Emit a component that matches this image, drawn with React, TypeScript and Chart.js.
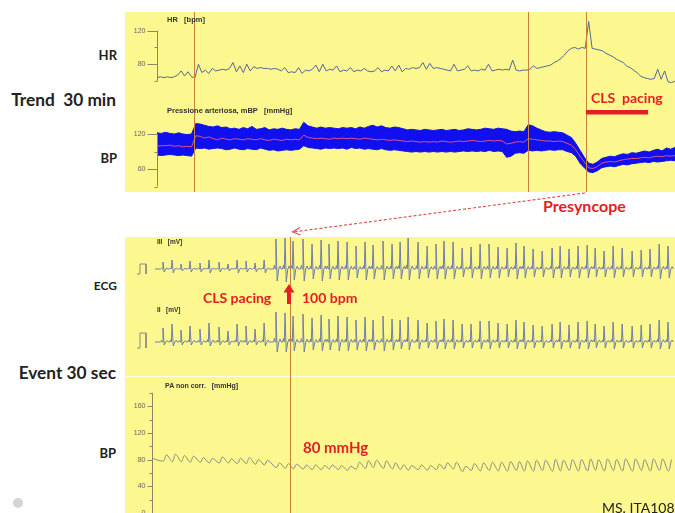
import React, { useEffect, useRef } from "react";
import { Chart, registerables } from "chart.js";

Chart.register(...registerables);

// ================= TREND 30 min (top panel) =================
const hrStepMin = 0.2;
const hrValues = [
  64, 65, 64, 65, 64, 65, 67, 72, 66, 71,
  65, 64, 80, 70, 73, 69, 75, 72, 73, 74,
  73, 75, 82, 71, 78, 70, 80, 72, 77, 75,
  76, 75, 75, 74, 75, 74, 72, 76, 70, 71,
  70, 76, 69, 73, 72, 74, 79, 71, 80, 72,
  74, 73, 78, 71, 73, 72, 76, 71, 73, 72,
  75, 72, 71, 72, 76, 71, 73, 72, 78, 72,
  79, 71, 75, 74, 76, 75, 76, 82, 74, 81,
  75, 76, 75, 74, 73, 72, 80, 72, 73, 74,
  78, 72, 73, 72, 74, 73, 80, 72, 73, 74,
  73, 74, 73, 85, 73, 72, 73, 73, 74, 78,
  75, 76, 77, 78, 79, 82, 84, 87, 91, 96,
  99, 100, 98, 100, 99, 131, 99, 98, 97, 96,
  93, 91, 89, 86, 84, 82, 78, 76, 73, 70,
  66, 64, 63, 62, 63, 74, 62, 72, 59, 58,
  60,
];

const bpStepMin = 0.25;
const bpSysTrend = [
  122, 121, 123, 121, 120, 122, 120, 119, 120, 138,
  137, 135, 133, 132, 134, 131, 132, 129, 130, 128,
  131, 129, 133, 128, 129, 131, 127, 129, 128, 130,
  128, 127, 129, 128, 140, 134, 132, 130, 132, 130,
  131, 130, 129, 131, 130, 131, 129, 132, 130, 133,
  135, 132, 134, 131, 130, 132, 131, 129, 127, 128,
  127, 126, 128, 127, 126, 127, 128, 126, 127, 128,
  126, 127, 129, 128, 127, 128, 130, 129, 128, 130,
  129, 128, 125, 124, 125, 124, 136, 134, 130, 127,
  124, 123, 124, 123, 122, 118, 114, 104, 92, 80,
  70, 68, 72, 78, 80, 82, 81, 84, 86, 85,
  88, 87, 89, 91, 89, 92, 94, 91, 96, 94,
  97,
];
const bpDiaTrend = [
  84, 83, 84, 85, 84, 83, 84, 83, 82, 96,
  95, 96, 94, 95, 96, 95, 93, 94, 96, 94,
  93, 95, 94, 93, 96, 94, 92, 93, 91, 92,
  93, 92, 93, 94, 100, 97, 96, 95, 94, 96,
  95, 96, 95, 96, 94, 97, 95, 96, 94, 95,
  94, 93, 95, 93, 92, 93, 92, 91, 90, 89,
  90, 89, 90, 89, 90, 89, 90, 89, 90, 89,
  90, 91, 90, 91, 90, 91, 90, 92, 90, 91,
  90, 80, 82, 87, 88, 87, 92, 91, 92, 91,
  92, 93, 92, 93, 93, 90, 88, 82, 70, 62,
  55, 54, 57, 62, 64, 65, 64, 66, 68, 67,
  69, 70, 71, 72, 71, 73, 72, 73, 74, 75,
  74,
];
const bpMeanTrend = [
  99, 100, 100, 101, 99, 100, 98, 99, 98, 117,
  116, 113, 115, 112, 110, 113, 111, 110, 112, 111,
  110, 112, 111, 110, 112, 110, 109, 111, 110, 109,
  111, 110, 111, 110, 118, 114, 113, 112, 113, 112,
  111, 113, 112, 113, 112, 113, 112, 111, 113, 112,
  111, 110, 111, 110, 109, 110, 109, 108, 107, 108,
  107, 106, 107, 106, 107, 106, 108, 107, 106, 107,
  108, 107, 108, 109, 108, 107, 108, 109, 108, 109,
  108, 103, 104, 106, 107, 106, 112, 111, 110, 109,
  108, 108, 107, 108, 107, 104, 101, 93, 82, 72,
  62, 61, 64, 70, 72, 73, 72, 74, 76, 77,
  78, 78, 79, 80, 79, 81, 82, 81, 83, 82,
  83,
];

const trendMarkersMin = [2.14, 21.49, 24.84];
const pacingStartMin = 24.84;
const pacingEndMin = 28.44;
const hrAxisRange = [60, 120];
const hrMajorTicks = [80, 120];
const hrMinorTicks = [60, 100];
const bpAxisRange = [30, 120];
const bpMajorTicks = [60, 120];
const bpMinorTicks = [30, 90];

// ================= EVENT 30 sec (bottom panel) =================
const ecgStartSec = 0.17;
const beatTimesSec = [
  0.63, 1.15, 1.66, 2.18, 2.75, 3.27, 3.84, 4.36, 4.88, 5.39, 5.91, 6.43,
  7.11, 7.63, 8.09, 8.66, 9.18, 9.7, 10.15, 10.67, 11.19, 11.7, 12.22, 12.68, 13.25, 13.77,
  14.23, 14.69, 15.26, 15.78, 16.29, 16.75, 17.27, 17.79, 18.3, 18.82, 19.33, 19.85, 20.37,
  20.88, 21.34, 21.86, 22.38, 22.95, 23.41, 23.92, 24.44, 24.96, 25.42, 25.93, 26.45, 26.97,
  27.54, 28.06, 28.57, 29.09, 29.6,
];
const ecgIIIR = [
  0.7, 0.9, 0.5, 0.8, 0.6, 0.9, 0.7, 0.5, 0.9, 0.8, 0.6, 0.9,
  3.0, 3.1, 2.8, 3.0, 2.5, 2.9, 2.5, 2.8, 2.7, 2.3, 2.7, 2.4, 2.8, 2.5,
  2.7, 3.1, 2.7, 2.3, 2.5, 2.8, 2.7, 2.1, 2.2, 2.5, 2.5, 2.2, 2.1, 2.6, 2.3, 2.0,
  1.8, 2.1, 2.3, 2.0, 2.3, 2.4, 2.1, 1.8, 2.3, 2.1, 1.8, 1.9, 2.0, 2.5, 2.3,
];
const ecgIIIS = [
  0.3, 0.4, 0.2, 0.3, 0.3, 0.4, 0.3, 0.2, 0.4, 0.3, 0.3, 0.4,
  1.2, 1.3, 1.1, 1.2, 1.0, 1.2, 1.0, 1.1, 1.1, 0.9, 1.1, 1.0, 1.1, 1.0,
  1.0, 1.1, 1.0, 0.9, 1.0, 1.0, 1.0, 0.8, 0.9, 1.0, 0.9, 0.9, 0.8, 1.0, 0.9, 0.8,
  0.8, 0.9, 0.9, 0.8, 0.9, 0.9, 0.8, 0.8, 0.9, 0.8, 0.8, 0.8, 0.8, 1.0, 0.9,
];
const ecgIIR = [
  1.4, 1.8, 1.2, 1.6, 1.3, 1.9, 1.5, 1.1, 1.8, 1.6, 1.3, 1.9,
  3.0, 2.9, 2.6, 2.8, 2.4, 2.7, 2.3, 2.6, 2.5, 2.2, 2.5, 2.2, 2.6, 2.3,
  2.2, 2.5, 2.2, 1.9, 2.1, 2.3, 2.2, 1.8, 1.8, 2.1, 2.1, 1.9, 1.8, 2.2, 2.0, 1.7,
  1.6, 1.8, 2.0, 1.7, 2.0, 2.1, 1.8, 1.6, 2.0, 1.8, 1.6, 1.7, 1.8, 2.2, 2.0,
];
const ecgIIS = [
  0.3, 0.4, 0.3, 0.3, 0.3, 0.4, 0.3, 0.3, 0.4, 0.3, 0.3, 0.4,
  1.0, 1.0, 0.9, 1.0, 0.8, 0.9, 0.8, 0.9, 0.9, 0.8, 0.9, 0.8, 0.9, 0.8,
  0.7, 0.8, 0.7, 0.6, 0.7, 0.7, 0.7, 0.6, 0.6, 0.7, 0.7, 0.6, 0.6, 0.7, 0.7, 0.6,
  0.6, 0.6, 0.7, 0.6, 0.7, 0.7, 0.6, 0.6, 0.7, 0.6, 0.6, 0.6, 0.6, 0.7, 0.7,
];
const pulseStartMmHg = 82;
const pulseSys = [
  87, 88, 86, 85, 83, 82, 84, 81, 82, 83, 80, 79,
  75, 74, 73, 72, 72, 71, 72, 71, 70, 76, 78, 79, 78, 75,
  72, 71, 72, 71, 73, 75, 76, 70, 74, 75, 76, 76, 77, 77, 78, 79,
  79, 80, 79, 80, 80, 81, 80, 81, 80, 81, 81, 80, 81, 81, 80,
];
const pulseDia = [
  78, 77, 77, 76, 76, 75, 75, 75, 74, 74, 73, 72,
  68, 67, 66, 66, 65, 65, 66, 65, 64, 66, 67, 68, 67, 66,
  65, 64, 65, 64, 65, 66, 66, 62, 64, 63, 64, 63, 63, 64, 63, 63,
  64, 63, 63, 64, 63, 63, 64, 63, 64, 63, 63, 64, 63, 64, 63,
];
const calTimesSec = [-0.86, -0.69, -0.69, -0.34, -0.34];
const calIIIValues = [-0.5, -0.5, 0.5, 0.5, -0.5];
const calIIValues = [-0.6, -0.6, 0.9, 0.9, -0.6];
const eventMarkerSec = [7.92];
const paAxisRange = [0, 180];
const paMajorTicks = [0, 40, 80, 120, 160];
const paMinorTicks = [20, 60, 100, 140, 180];

// ================= styling =================
const YELLOW = "#FCF78E";
const RED = "#E31E24";
const MARKER = "#C4823E";
const AXIS = "#8E8466";
const SANS = 'Lato, "Open Sans", sans-serif';
const ARIAL = '"Liberation Sans", Arial, sans-serif';

// beat morphology offsets (s) and weights of R / S
const beatShape: [number, number, number][] = [
  [-0.14, 0, 0],
  [-0.09, 0.12, 0],
  [-0.04, 0, 0],
  [0, 1, 0],
  [0.07, 0, 1],
  [0.16, 0, 0],
  [0.24, 0.1, 0],
  [0.3, 0, 0],
];

function buildEcg(R: number[], S: number[]) {
  const pts: { x: number; y: number }[] = [{ x: ecgStartSec, y: 0 }];
  beatTimesSec.forEach((t, i) => {
    beatShape.forEach(([dt, fr, fs]) => {
      pts.push({ x: t + dt, y: fr * R[i] - fs * S[i] });
    });
  });
  return pts;
}

function buildPulse() {
  const pts: { x: number; y: number }[] = [{ x: 0, y: pulseStartMmHg }];
  beatTimesSec.forEach((t, i) => {
    pts.push({ x: t + 0.02, y: pulseDia[i] });
    pts.push({ x: t + 0.2, y: pulseSys[i] });
  });
  return pts;
}

const series = (vals: number[], step: number) => vals.map((v, i) => ({ x: i * step, y: v }));
const pairs = (xs: number[], ys: number[]) => xs.map((x, i) => ({ x, y: ys[i] }));

const panelDeco = {
  id: "panelDeco",
  beforeDraw(chart: any, _a: any, o: any) {
    const { ctx, width } = chart;
    ctx.save();
    ctx.fillStyle = o.bg;
    ctx.fillRect(0, 0, width, chart.height);
    (o.separators || []).forEach((y: number) => {
      ctx.fillStyle = "rgba(255,255,255,0.8)";
      ctx.fillRect(0, y, width, 1);
    });
    ctx.restore();
  },
  afterDatasetsDraw(chart: any, _a: any, o: any) {
    const { ctx } = chart;
    const h = chart.height;
    const xs = chart.scales.x;
    ctx.save();
    ctx.lineWidth = 1;
    ctx.strokeStyle = MARKER;
    (o.markers || []).forEach((m: number) => {
      const x = Math.round(xs.getPixelForValue(m)) + 0.5;
      ctx.beginPath();
      ctx.moveTo(x, 0);
      ctx.lineTo(x, h);
      ctx.stroke();
    });
    (o.bars || []).forEach((b: any) => {
      const x1 = xs.getPixelForValue(b.from);
      const x2 = xs.getPixelForValue(b.to);
      ctx.fillStyle = b.color;
      ctx.fillRect(x1, b.y, x2 - x1, b.h);
    });
    ctx.font = o.tickFont;
    ctx.textAlign = "right";
    ctx.textBaseline = "middle";
    (o.axes || []).forEach((ax: any) => {
      const s = chart.scales[ax.scale];
      const x0 = Math.round(xs.getPixelForValue(ax.at)) + 0.5;
      ctx.strokeStyle = AXIS;
      ctx.beginPath();
      ctx.moveTo(x0, s.getPixelForValue(ax.range[0]));
      ctx.lineTo(x0, s.getPixelForValue(ax.range[1]));
      ax.major.forEach((v: number) => {
        const y = Math.round(s.getPixelForValue(v)) + 0.5;
        ctx.moveTo(x0 - ax.majorLen, y);
        ctx.lineTo(x0, y);
      });
      ax.minor.forEach((v: number) => {
        const y = Math.round(s.getPixelForValue(v)) + 0.5;
        ctx.moveTo(x0 - ax.minorLen, y);
        ctx.lineTo(x0, y);
      });
      ctx.stroke();
      ctx.fillStyle = "#666";
      ax.major.forEach((v: number) => {
        ctx.fillText(String(v), x0 - ax.majorLen - 2, s.getPixelForValue(v));
      });
    });
    ctx.restore();
  },
};

function baseOptions(xMin: number, xMax: number, yScales: any, deco: any) {
  return {
    responsive: false,
    animation: false,
    events: [],
    layout: { padding: 0 },
    plugins: {
      legend: { display: false },
      tooltip: { enabled: false },
      panelDeco: deco,
    },
    elements: { point: { radius: 0 }, line: { borderWidth: 1 } },
    scales: {
      x: { type: "linear", display: false, min: xMin, max: xMax },
      ...yScales,
    },
  };
}

type LP = {
  x: number; y: number; size: number; text: string; weight?: number;
  color?: string; align?: "left" | "right"; family?: string;
};
function Label({ x, y, size, text, weight = 700, color = "#222", align = "left", family = SANS }: LP) {
  return (
    <div
      style={{
        position: "absolute",
        left: align === "left" ? x : undefined,
        right: align === "right" ? 675 - x : undefined,
        top: y - size / 2,
        fontSize: size,
        lineHeight: `${size}px`,
        fontWeight: weight,
        color,
        whiteSpace: "pre",
        fontFamily: family,
      }}
    >
      {text}
    </div>
  );
}

export default function App() {
  const topRef = useRef<HTMLCanvasElement>(null);
  const botRef = useRef<HTMLCanvasElement>(null);

  useEffect(() => {
    const top = new Chart(topRef.current as HTMLCanvasElement, {
      type: "line",
      data: {
        datasets: [
          { data: series(bpMeanTrend, bpStepMin), borderColor: "#E0508C", yAxisID: "yBP" },
          { data: series(hrValues, hrStepMin), borderColor: "#56679A", yAxisID: "yHR" },
          { data: series(bpDiaTrend, bpStepMin), borderColor: "#1010EE", yAxisID: "yBP" },
          {
            data: series(bpSysTrend, bpStepMin), borderColor: "#1010EE", yAxisID: "yBP",
            fill: "-1", backgroundColor: "#1010EE",
          },
        ],
      },
      options: baseOptions(
        -1.853, 30,
        {
          yHR: { type: "linear", display: false, min: -72.4, max: 142.3 },
          yBP: { type: "linear", display: false, min: 20.6, max: 329.1 },
        },
        {
          bg: YELLOW,
          markers: trendMarkersMin,
          bars: [{ from: pacingStartMin, to: pacingEndMin, y: 98, h: 4.5, color: RED }],
          tickFont: `7px ${ARIAL}`,
          axes: [
            { scale: "yHR", at: 0, range: hrAxisRange, major: hrMajorTicks, minor: hrMinorTicks, majorLen: 10, minorLen: 3 },
            { scale: "yBP", at: 0, range: bpAxisRange, major: bpMajorTicks, minor: bpMinorTicks, majorLen: 10, minorLen: 3 },
          ],
        }
      ) as any,
      plugins: [panelDeco],
    });

    const bot = new Chart(botRef.current as HTMLCanvasElement, {
      type: "line",
      data: {
        datasets: [
          { data: pairs(calTimesSec, calIIIValues), borderColor: "#8A8A8A", yAxisID: "yIII" },
          { data: pairs(calTimesSec, calIIValues), borderColor: "#8A8A8A", yAxisID: "yII" },
          { data: buildEcg(ecgIIIR, ecgIIIS), borderColor: "#6E7EA8", yAxisID: "yIII" },
          { data: buildEcg(ecgIIR, ecgIIS), borderColor: "#6E7EA8", yAxisID: "yII" },
          { data: buildPulse(), borderColor: "#8C8C84", yAxisID: "yPA", tension: 0.35 },
        ],
      },
      options: baseOptions(
        -1.549, 30,
        {
          yIII: { type: "linear", display: false, min: -24.4, max: 3.2 },
          yII: { type: "linear", display: false, min: -17.1, max: 10.5 },
          yPA: { type: "linear", display: false, min: 0, max: 413.5 },
        },
        {
          bg: YELLOW,
          markers: eventMarkerSec,
          separators: [139],
          tickFont: `7px ${ARIAL}`,
          axes: [
            { scale: "yPA", at: 0, range: paAxisRange, major: paMajorTicks, minor: paMinorTicks, majorLen: 5, minorLen: 3 },
          ],
        }
      ) as any,
      plugins: [panelDeco],
    });

    return () => {
      top.destroy();
      bot.destroy();
    };
  }, []);

  return (
    <div
      style={{
        position: "absolute", left: 0, top: 0, width: 675, height: 513,
        background: "#fff", overflow: "hidden", fontFamily: SANS,
      }}
    >
      <canvas ref={topRef} width={550} height={180} style={{ position: "absolute", left: 125, top: 12 }} />
      <canvas ref={botRef} width={550} height={276} style={{ position: "absolute", left: 125, top: 237 }} />

      {/* left labels */}
      <Label x={117} y={55} size={13} text="HR" align="right" />
      <Label x={116} y={100} size={17.3} text="Trend  30 min" align="right" />
      <Label x={117} y={158} size={13} text="BP" align="right" />
      <Label x={117} y={286} size={12} text="ECG" align="right" />
      <Label x={116} y={373} size={17.3} text="Event 30 sec" align="right" />
      <Label x={116} y={453} size={13} text="BP" align="right" />

      {/* channel titles */}
      <Label x={167} y={20} size={7.5} text="HR   [bpm]" family={ARIAL} color="#333" />
      <Label x={167} y={111} size={7.5} text="Pressione arteriosa, mBP   [mmHg]" family={ARIAL} color="#333" />
      <Label x={157} y={242} size={6.5} text="III   [mV]" family={ARIAL} color="#333" />
      <Label x={157} y={310} size={6.5} text="II   [mV]" family={ARIAL} color="#333" />
      <Label x={165} y={385} size={7} text="PA non corr.   [mmHg]" family={ARIAL} color="#333" />

      {/* annotations */}
      <Label x={591} y={98} size={14} text="CLS  pacing" color={RED} />
      <Label x={543} y={206} size={16} text="Presyncope" color={RED} />
      <Label x={203} y={298} size={14} text="CLS pacing" color={RED} />
      <Label x={302} y={298} size={14} text="100 bpm" color={RED} />
      <Label x={303} y={447} size={15} text="80 mmHg" color={RED} />
      <Label x={602} y={508} size={14} text="MS. ITA108" weight={400} color="#222" />

      <svg width={675} height={513} style={{ position: "absolute", left: 0, top: 0, pointerEvents: "none" }}>
        <line x1={585} y1={193} x2={293} y2={232} stroke="#E04848" strokeWidth={1.1} strokeDasharray="3 2" />
        <polyline points="300,227.5 292.5,232 300.5,235" fill="none" stroke="#E04848" strokeWidth={1.1} />
        <polygon points="289,284 283.5,292.5 287,292.5 287,304 291,304 291,292.5 294.5,292.5" fill={RED} />
        <circle cx={18} cy={503} r={5} fill="#D4D4D4" />
      </svg>
    </div>
  );
}
